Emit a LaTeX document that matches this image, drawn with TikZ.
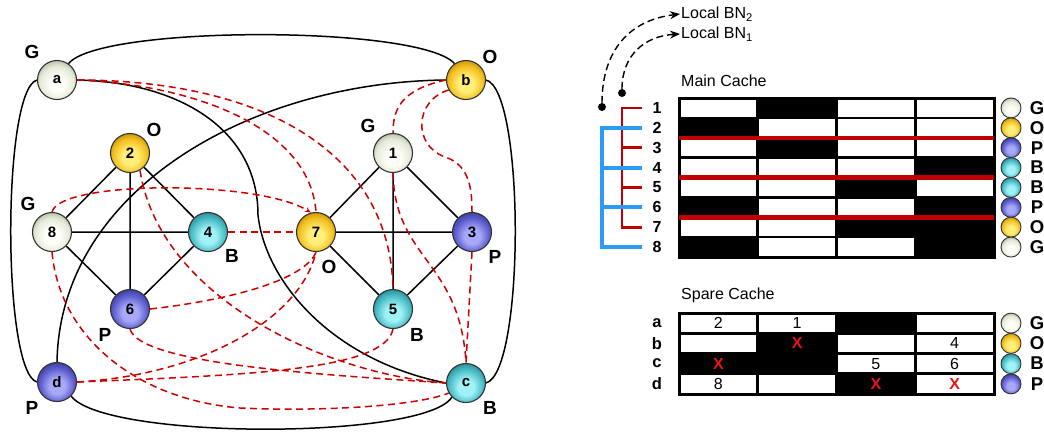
\documentclass[tikz,border=0pt]{standalone}
\usepackage{fontspec}
\setmainfont{Liberation Sans}
\usetikzlibrary{arrows.meta}
\definecolor{redc}{RGB}{204,0,0}
\definecolor{barred}{RGB}{192,0,0}
\definecolor{blueb}{RGB}{45,155,245}
\definecolor{xred}{RGB}{235,20,20}
\definecolor{Ghi}{RGB}{253,254,248}
\definecolor{Gmid}{RGB}{228,234,216}
\definecolor{Glo}{RGB}{165,175,152}
\definecolor{Ohi}{RGB}{255,238,120}
\definecolor{Omid}{RGB}{242,192,32}
\definecolor{Olo}{RGB}{185,135,0}
\definecolor{Bhi}{RGB}{160,242,246}
\definecolor{Bmid}{RGB}{72,186,196}
\definecolor{Blo}{RGB}{32,125,136}
\definecolor{Phi}{RGB}{168,168,248}
\definecolor{Pmid}{RGB}{92,92,206}
\definecolor{Plo}{RGB}{52,52,145}
\pgfdeclareradialshading{shG}{\pgfpoint{0bp}{-7bp}}{color(0bp)=(Ghi); color(10bp)=(Ghi); color(22bp)=(Gmid); color(31bp)=(Glo); color(50bp)=(Glo)}
\pgfdeclareradialshading{shO}{\pgfpoint{0bp}{-7bp}}{color(0bp)=(Ohi); color(10bp)=(Ohi); color(22bp)=(Omid); color(31bp)=(Olo); color(50bp)=(Olo)}
\pgfdeclareradialshading{shB}{\pgfpoint{0bp}{-7bp}}{color(0bp)=(Bhi); color(10bp)=(Bhi); color(22bp)=(Bmid); color(31bp)=(Blo); color(50bp)=(Blo)}
\pgfdeclareradialshading{shP}{\pgfpoint{0bp}{-7bp}}{color(0bp)=(Phi); color(10bp)=(Phi); color(22bp)=(Pmid); color(31bp)=(Plo); color(50bp)=(Plo)}
\pgfdeclarelayer{bg}
\pgfsetlayers{bg,main}
\tikzset{
  ball/.style={circle, draw=black!80, line width=1.1pt, minimum size=39pt, inner sep=0pt, font=\bfseries\fontsize{15}{15}\selectfont},
  bG/.style={ball, shade, shading=shG},
  bO/.style={ball, shade, shading=shO},
  bB/.style={ball, shade, shading=shB},
  bP/.style={ball, shade, shading=shP},
  lab/.style={font=\bfseries\fontsize{19}{19}\selectfont, inner sep=0pt},
  bl/.style={draw=black, line width=1.5pt},
  dl/.style={draw=redc, line width=1.5pt, dash pattern=on 7pt off 4.5pt},
  redtip/.style={-{Stealth[length=6pt,width=5pt]}},
  lball/.style={circle, draw=black!80, line width=0.9pt, minimum size=20pt, inner sep=0pt, shade},
  leglab/.style={font=\bfseries\fontsize{18.5}{18.5}\selectfont, inner sep=0pt},
  rowlab/.style={font=\bfseries\fontsize{16}{16}\selectfont, inner sep=0pt},
  celltext/.style={font=\fontsize{16}{16}\selectfont, inner sep=0pt},
  xmark/.style={font=\bfseries\fontsize{16}{16}\selectfont, text=xred, inner sep=0pt},
  title/.style={font=\fontsize{16}{16}\selectfont, anchor=west, inner sep=1pt},
  redbr/.style={draw=barred, line width=2.6pt},
  bluebr/.style={draw=blueb, line width=4pt},
  redbar/.style={draw=barred, line width=4.5pt},
  bnarrow/.style={draw=black, line width=1.4pt, dash pattern=on 7pt off 4pt, -{Stealth[length=10pt,width=8pt]}},
  dot/.style={circle, fill=black, minimum size=8pt, inner sep=0pt}
}
\begin{document}
\begin{tikzpicture}[x=1pt, y=-1pt]
\useasboundingbox (0,0) rectangle (1044,432);

% ---------------- graph nodes
\node[bG] (a) at (57,80) {a};
\node[bO] (b) at (466,80) {b};
\node[bB] (c) at (466,383) {c};
\node[bP] (d) at (57,382) {d};
\node[bO] (n2) at (130,153) {2};
\node[bG] (n8) at (52,232) {8};
\node[bB] (n4) at (208,232) {4};
\node[bP] (n6) at (130,309) {6};
\node[bO] (n7) at (316,232) {7};
\node[bG] (n1) at (393,153) {1};
\node[bP] (n3) at (472,232) {3};
\node[bB] (n5) at (393,309) {5};

% labels
\node[lab] (la) at (32,52) {G};
\node[lab] (lb) at (490,57) {O};
\node[lab] (l2) at (154,130) {O};
\node[lab] (l8) at (28,204) {G};
\node[lab] (l4) at (232,256) {B};
\node[lab] (l6) at (105,335) {P};
\node[lab] (l7) at (329,267) {O};
\node[lab] (l1) at (368,126) {G};
\node[lab] (l3) at (495,257) {P};
\node[lab] (l5) at (417,335) {B};
\node[lab] (ld) at (32,408) {P};
\node[lab] (lc) at (490,408) {B};

\begin{pgfonlayer}{bg}
% black solid edges
\draw[bl] (n2)--(n8) (n2)--(n4) (n2)--(n6) (n8)--(n4) (n8)--(n6) (n4)--(n6);
\draw[bl] (n1)--(n7) (n1)--(n3) (n1)--(n5) (n7)--(n3) (n7)--(n5) (n3)--(n5);
\draw[bl] (a.55) .. controls (100,25) and (420,25) .. (b.125);
\draw[bl] (a.west) .. controls (2,90) and (2,372) .. (d.west);
\draw[bl] (b.east) .. controls (525,90) and (525,372) .. (c.east);
\draw[bl] (d.-45) .. controls (105,440) and (425,440) .. (c.-135);
\draw[bl] (a.east) .. controls (180,82) and (258,130) .. (258,215) .. controls (265,280) and (330,360) .. (c.west);
\draw[bl] (b.west) .. controls (250,82) and (60,190) .. (d.north);

% red dashed edges
\draw[dl] (a.east) .. controls (200,85) and (310,130) .. (n7.north);
\draw[dl] (a.east) .. controls (260,80) and (390,150) .. (n5.north);
\draw[dl, redtip] (n8.north) .. controls (60,180) and (260,180) .. (n7.105);
\draw[dl] (n8.south) .. controls (60,340) and (140,400) .. (240,408) .. controls (330,412) and (420,405) .. (c.-150);
\draw[dl] (n2.-60) .. controls (160,300) and (330,375) .. (c.west);
\draw[dl] (n6.east) .. controls (230,300) and (305,280) .. (n7.south);
\draw[dl] (n6.south) .. controls (140,365) and (330,375) .. (c.west);
\draw[dl] (n4) -- (n7);
\draw[dl] (d.east) .. controls (200,375) and (300,320) .. (n7.south);
\draw[dl] (d.east) .. controls (250,375) and (385,370) .. (n5.south);
\draw[dl] (b.west) .. controls (400,90) and (393,110) .. (n1.north);
\draw[dl] (b.-150) .. controls (415,100) and (412,145) .. (445,157) .. controls (470,165) and (472,190) .. (n3.north);
\draw[dl] (n3.south) -- (c.north);
\draw[dl] (n1.south) .. controls (395,260) and (460,260) .. (c.north);
\end{pgfonlayer}

% ---------------- Local BN arrows
\node[title] (bn2) at (680,14) {Local BN\textsubscript{2}};
\node[title] (bn1) at (680,34) {Local BN\textsubscript{1}};
\node[dot] (dotA) at (602,107) {};
\node[dot] (dotB) at (622,93) {};
\draw[bnarrow] (dotA) .. controls (602,50) and (630,20) .. (bn2.west);
\draw[bnarrow] (dotB) .. controls (622,55) and (645,36) .. (bn1.west);

% ---------------- Main cache
\node[title] (mct) at (680,81) {Main Cache};
\fill[black] (679,98) rectangle (994,257);
\foreach \ri/\ci in {1/1,1/3,1/4,2/2,2/3,2/4,3/1,3/3,3/4,4/1,4/2,4/3,5/1,5/2,5/4,6/2,6/3,7/1,7/2,8/2,8/3}
  \fill[white] ({679+(\ci-1)*78.75+1.3},{98+(\ri-1)*19.875+1.3}) rectangle ({679+\ci*78.75-1.3},{98+\ri*19.875-1.3});
\draw[black, line width=3pt] (679,98) rectangle (994,257);
\draw[redbar] (679,137.75) -- (994,137.75);
\draw[redbar] (679,177.5) -- (994,177.5);
\draw[redbar] (679,217.25) -- (994,217.25);
\foreach \i in {1,...,8}
  \node[rowlab] (m\i) at (657,{98+(\i-0.5)*19.875}) {\i};
\foreach \i/\k in {1/G,2/O,3/P,4/B,5/B,6/P,7/O,8/G} {
  \node[lball, shading=sh\k] (mb\i) at (1011,{98+(\i-0.5)*19.875}) {};
  \node[leglab] (ml\i) at (1037,{98+(\i-0.5)*19.875}) {\k};
}
% brackets
\draw[redbr] (642,107.9) -- (622,107.9) -- (622,227.2) -- (642,227.2);
\draw[redbr] (622,147.7) -- (642,147.7);
\draw[redbr] (622,187.4) -- (642,187.4);
\draw[bluebr] (642,127.8) -- (602,127.8) -- (602,247.1) -- (642,247.1);
\draw[bluebr] (602,167.6) -- (642,167.6);
\draw[bluebr] (602,207.3) -- (642,207.3);

% ---------------- Spare cache
\node[title] (sct) at (680,295) {Spare Cache};
\fill[black] (679,313) rectangle (994,394);
\foreach \ri/\ci in {1/1,1/2,1/4,2/1,2/3,2/4,3/3,3/4,4/1,4/2,4/4}
  \fill[white] ({679+(\ci-1)*78.75+1.3},{313+(\ri-1)*20.25+1.3}) rectangle ({679+\ci*78.75-1.3},{313+\ri*20.25-1.3});
\draw[black, line width=3pt] (679,313) rectangle (994,394);
\foreach \ri/\ci/\tx in {1/1/2,1/2/1,2/4/4,3/3/5,3/4/6,4/1/8}
  \node[celltext] (t\ri\ci) at ({679+(\ci-0.5)*78.75},{313+(\ri-0.5)*20.25}) {\tx};
\foreach \ri/\ci in {2/2,3/1,4/3,4/4}
  \node[xmark] (x\ri\ci) at ({679+(\ci-0.5)*78.75},{313+(\ri-0.5)*20.25}) {X};
\foreach \i/\l in {1/a,2/b,3/c,4/d}
  \node[rowlab, font=\bfseries\fontsize{16.5}{16.5}\selectfont] (sp\l) at (657,{313+(\i-0.5)*20.25}) {\l};
\foreach \i/\k in {1/G,2/O,3/B,4/P} {
  \node[lball, shading=sh\k] (sb\i) at (1011,{313+(\i-0.5)*20.25}) {};
  \node[leglab] (sl\i) at (1037,{313+(\i-0.5)*20.25}) {\k};
}
\end{tikzpicture}
\end{document}
